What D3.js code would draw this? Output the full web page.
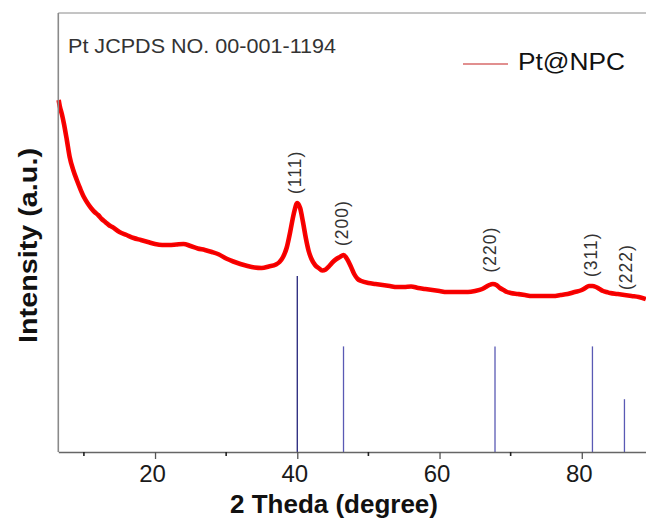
<!DOCTYPE html>
<html>
<head>
<meta charset="utf-8">
<script src="https://cdn.jsdelivr.net/npm/d3@7"></script>
<style>
  html, body { margin: 0; padding: 0; background: #fff; }
  svg { display: block; font-family: "Liberation Sans", Arial, sans-serif; }
</style>
</head>
<body>
<svg id="chart" width="646" height="523"></svg>
<script>
// ---------- data ----------
const twoTheta = [6.45,6.6,6.9,7.2,7.6,8.0,8.5,9.0,9.5,10.0,10.5,11.0,11.5,12.0,12.5,13.0,13.5,14.0,15.0,16.0,17.0,18.0,19.0,20.0,21.0,22.0,23.0,24.0,25.0,26.0,27.0,28.0,29.0,30.0,31.0,32.0,33.0,34.0,35.0,36.0,37.0,37.5,38.0,38.5,39.0,39.5,40.0,40.4,40.8,41.2,41.6,42.0,42.5,43.0,43.5,44.0,44.5,45.0,45.5,46.0,46.5,47.0,47.5,48.0,48.5,49.0,50.0,51.0,52.0,53.0,54.0,55.0,56.0,57.0,58.0,59.0,60.0,61.0,62.0,63.0,64.0,65.0,66.0,66.5,67.0,67.5,68.0,68.5,69.0,69.5,70.0,71.0,72.0,73.0,74.0,75.0,76.0,77.0,78.0,79.0,80.0,80.5,81.0,81.5,82.0,82.5,83.0,83.5,84.0,85.0,86.0,87.0,88.0,89.0];
const intensity = [3520,3460,3380,3280,3120,2950,2820,2720,2630,2550,2490,2440,2400,2370,2330,2300,2270,2250,2200,2170,2140,2120,2100,2080,2070,2070,2075,2080,2060,2035,2020,2000,1975,1935,1905,1880,1860,1845,1840,1855,1875,1900,1950,2040,2200,2380,2490,2440,2300,2140,2010,1930,1870,1840,1815,1825,1860,1900,1930,1950,1970,1930,1860,1780,1730,1710,1690,1680,1670,1660,1650,1650,1655,1640,1630,1620,1610,1600,1600,1600,1600,1610,1630,1650,1670,1680,1670,1640,1620,1600,1590,1580,1570,1560,1560,1560,1560,1570,1580,1600,1620,1640,1660,1660,1650,1630,1610,1600,1590,1580,1570,1560,1550,1530];
const seriesName = "Pt@NPC";
const refName = "Pt JCPDS NO. 00-001-1194";
const refPeaks = [40.0, 46.5, 67.8, 81.5, 86.0];
const refIntensity = [100, 60, 60, 60, 30];
const refLabels = ["(111)", "(200)", "(220)", "(311)", "(222)"];
const majorTicks = [20, 40, 60, 80];
const minorTicks = [10, 30, 50, 70];
const xTitle = "2 Theda (degree)";
const yTitle = "Intensity (a.u.)";

// ---------- layout ----------
const svg = d3.select("#chart");
const mLeft = 58.3, mRight = 646, mTop = 13, mBottom = 452;

const x = d3.scaleLinear().domain([6.4, 89.03]).range([mLeft, mRight]);
const y = d3.scaleLinear().domain([0, 4390]).range([mBottom, mTop]);
const yRef = d3.scaleLinear().domain([0, 100]).range([mBottom, 276]);

// reference sticks
svg.append("g").selectAll("line").data(refPeaks).join("line")
  .attr("x1", d => x(d)).attr("x2", d => x(d))
  .attr("y1", mBottom).attr("y2", (d, i) => yRef(refIntensity[i]))
  .attr("stroke", (d, i) => i === 0 ? "#23237a" : "#5a5ab4")
  .attr("stroke-width", 1.3);

// curve
const pts = twoTheta.map((t, i) => [t, intensity[i]]);
const line = d3.line().x(d => x(d[0])).y(d => y(d[1])).curve(d3.curveMonotoneX);
svg.append("path").datum(pts)
  .attr("d", line)
  .attr("fill", "none")
  .attr("stroke", "#ff0000")
  .attr("stroke-width", 4.6)
  .attr("stroke-linejoin", "round");
svg.append("path").datum(pts)
  .attr("d", line)
  .attr("fill", "none")
  .attr("stroke", "#e00000")
  .attr("stroke-width", 1.2);

// peak labels
const interp = t => {
  const i = d3.bisectLeft(twoTheta, t);
  if (i <= 0) return intensity[0];
  const t0 = twoTheta[i-1], t1 = twoTheta[i];
  const k = (t - t0) / (t1 - t0);
  return intensity[i-1] + k * (intensity[i] - intensity[i-1]);
};
svg.append("g").selectAll("text").data(refPeaks).join("text")
  .attr("transform", (d, i) => `translate(${x(d) - 2 + (i===4?3:0) + (i===2?-3:0)},${y(interp(d)) - 9 + (i===4?4:0) + (i===2?-3:0)}) rotate(-90)`)
  .attr("dy", "0.35em")
  .attr("font-size", 17.5)
  .attr("letter-spacing", 1)
  .attr("fill", "#333")
  .text((d, i) => refLabels[i]);

// frame
svg.append("line").attr("x1", mLeft).attr("x2", mRight).attr("y1", mTop).attr("y2", mTop)
  .attr("stroke", "#8a8a8a").attr("stroke-width", 1);
svg.append("line").attr("x1", mLeft).attr("x2", mLeft).attr("y1", mTop).attr("y2", mBottom)
  .attr("stroke", "#8a8a8a").attr("stroke-width", 1.6);

// x axis
const gx = svg.append("g").attr("transform", `translate(0,${mBottom})`)
  .call(d3.axisBottom(x).tickValues(majorTicks).tickSize(7).tickSizeOuter(0).tickPadding(6));
gx.select(".domain").attr("stroke", "#666").attr("stroke-width", 1.3);
gx.selectAll(".tick line").attr("stroke", "#555").attr("stroke-width", 1.3);
gx.selectAll(".tick text").attr("font-size", 24).attr("fill", "#1a1a1a")
  .attr("font-family", "Liberation Sans, Arial, sans-serif").attr("dx", -3);
svg.append("g").selectAll("line").data(minorTicks).join("line")
  .attr("x1", d => x(d)).attr("x2", d => x(d))
  .attr("y1", mBottom).attr("y2", mBottom + 4)
  .attr("stroke", "#222").attr("stroke-width", 1.6);

// axis titles
svg.append("text").attr("x", 334).attr("y", 513)
  .attr("text-anchor", "middle").attr("font-weight", "bold").attr("font-size", 25)
  .attr("fill", "#111").attr("textLength", 208).attr("lengthAdjust", "spacingAndGlyphs")
  .text(xTitle);
svg.append("text").attr("transform", "translate(37,245.5) rotate(-90)")
  .attr("text-anchor", "middle").attr("font-weight", "bold").attr("font-size", 25)
  .attr("fill", "#111").attr("textLength", 195).attr("lengthAdjust", "spacingAndGlyphs")
  .text(yTitle);

// reference note
svg.append("text").attr("x", 68).attr("y", 53)
  .attr("font-size", 21).attr("fill", "#333")
  .attr("textLength", 268).attr("lengthAdjust", "spacingAndGlyphs")
  .text(refName);

// legend
svg.append("line").attr("x1", 463).attr("x2", 508).attr("y1", 64).attr("y2", 64)
  .attr("stroke", "#c42020").attr("stroke-width", 1.2);
svg.append("text").attr("x", 518).attr("y", 69.5)
  .attr("font-size", 23.5).attr("fill", "#111")
  .attr("textLength", 107).attr("lengthAdjust", "spacingAndGlyphs")
  .text(seriesName);
</script>
</body>
</html>
